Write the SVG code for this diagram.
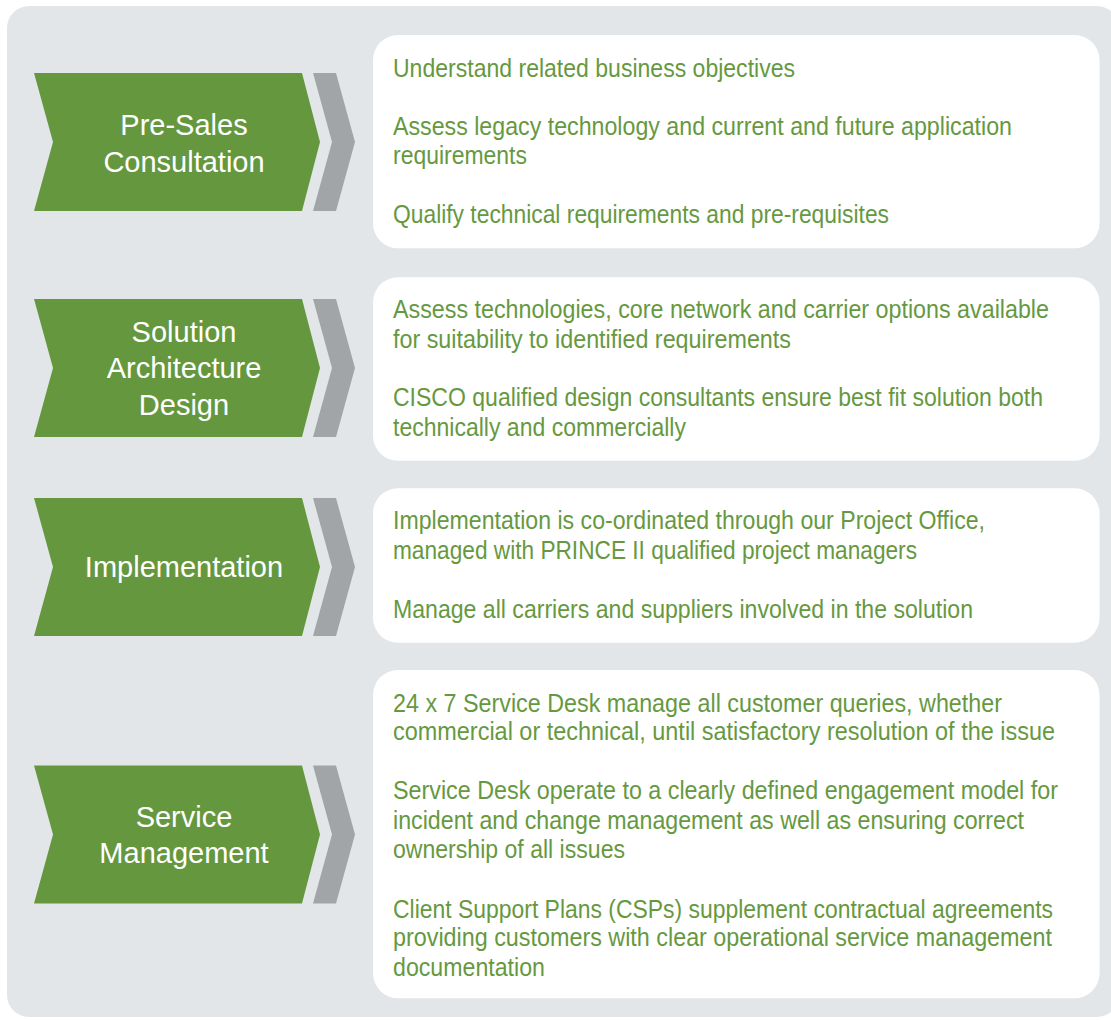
<svg xmlns="http://www.w3.org/2000/svg" width="1111" height="1020" viewBox="0 0 1111 1020">
<style>
.bg{fill:#E3E6E9}
.panel{fill:#FFFFFF}
.green{fill:#65983E}
.grey{fill:#A2A5A8}
.lbl{font-family:"Liberation Sans",Arial,sans-serif;font-size:29px;fill:#FFFFFF;text-anchor:middle}
.txt{font-family:"Liberation Sans Narrow","Liberation Sans",Arial,sans-serif;font-size:22px;fill:#66993F}
</style>
<defs>
<path id="chev" d="M34,-69 L302,-69 L320,0 L302,69 L34,69 L53,0 Z"/>
<path id="chev2" d="M313,-69 L336,-69 L355,0 L336,69 L313,69 L332,0 Z"/>
</defs>
<rect class="bg" x="7" y="6" width="1112" height="1011" rx="22"/>

<g id="node-presales">
<use href="#chev" class="green" transform="translate(0,142)"/>
<use href="#chev2" class="grey" transform="translate(0,142)"/>
<text class="lbl" x="184" y="135">Pre-Sales</text>
<text class="lbl" x="184" y="171.7">Consultation</text>
<rect class="panel" x="373" y="35" width="726.5" height="213.3" rx="25"/>
<g transform="scale(1,1.181818)">
<text class="txt" x="393" y="65.15" textLength="402" lengthAdjust="spacingAndGlyphs">Understand related business objectives</text>
<text class="txt" x="393" y="114.65" textLength="619" lengthAdjust="spacingAndGlyphs">Assess legacy technology and current and future application</text>
<text class="txt" x="393" y="139.19" textLength="134" lengthAdjust="spacingAndGlyphs">requirements</text>
<text class="txt" x="393" y="188.69" textLength="496" lengthAdjust="spacingAndGlyphs">Qualify technical requirements and pre-requisites</text>
</g>
</g>

<g id="node-solution">
<use href="#chev" class="green" transform="translate(0,368)"/>
<use href="#chev2" class="grey" transform="translate(0,368)"/>
<text class="lbl" x="184" y="341.7">Solution</text>
<text class="lbl" x="184" y="378.3">Architecture</text>
<text class="lbl" x="184" y="415">Design</text>
<rect class="panel" x="373" y="277.3" width="726.5" height="183.4" rx="25"/>
<g transform="scale(1,1.181818)">
<text class="txt" x="393" y="269.5" textLength="656" lengthAdjust="spacingAndGlyphs">Assess technologies, core network and carrier options available</text>
<text class="txt" x="393" y="294.88" textLength="398" lengthAdjust="spacingAndGlyphs">for suitability to identified requirements</text>
<text class="txt" x="393" y="343.96" textLength="650" lengthAdjust="spacingAndGlyphs">CISCO qualified design consultants ensure best fit solution both</text>
<text class="txt" x="393" y="369.35" textLength="293" lengthAdjust="spacingAndGlyphs">technically and commercially</text>
</g>
</g>

<g id="node-implementation">
<use href="#chev" class="green" transform="translate(0,567)"/>
<use href="#chev2" class="grey" transform="translate(0,567)"/>
<text class="lbl" x="184" y="577">Implementation</text>
<rect class="panel" x="373" y="488.3" width="726.5" height="154.4" rx="25"/>
<g transform="scale(1,1.181818)">
<text class="txt" x="393" y="448.04" textLength="592" lengthAdjust="spacingAndGlyphs">Implementation is co-ordinated through our Project Office,</text>
<text class="txt" x="393" y="473" textLength="524" lengthAdjust="spacingAndGlyphs">managed with PRINCE II qualified project managers</text>
<text class="txt" x="393" y="522.92" textLength="580" lengthAdjust="spacingAndGlyphs">Manage all carriers and suppliers involved in the solution</text>
</g>
</g>

<g id="node-service">
<use href="#chev" class="green" transform="translate(0,834.5)"/>
<use href="#chev2" class="grey" transform="translate(0,834.5)"/>
<text class="lbl" x="184" y="826.7">Service</text>
<text class="lbl" x="184" y="863.3">Management</text>
<rect class="panel" x="373" y="670" width="726.5" height="328.3" rx="25"/>
<g transform="scale(1,1.181818)">
<text class="txt" x="393" y="602.2" textLength="609" lengthAdjust="spacingAndGlyphs">24 x 7 Service Desk manage all customer queries, whether</text>
<text class="txt" x="393" y="626.58" textLength="662" lengthAdjust="spacingAndGlyphs">commercial or technical, until satisfactory resolution of the issue</text>
<text class="txt" x="393" y="676.5" textLength="665" lengthAdjust="spacingAndGlyphs">Service Desk operate to a clearly defined engagement model for</text>
<text class="txt" x="393" y="701.46" textLength="631" lengthAdjust="spacingAndGlyphs">incident and change management as well as ensuring correct</text>
<text class="txt" x="393" y="726" textLength="232" lengthAdjust="spacingAndGlyphs">ownership of all issues</text>
<text class="txt" x="393" y="776.35" textLength="660" lengthAdjust="spacingAndGlyphs">Client Support Plans (CSPs) supplement contractual agreements</text>
<text class="txt" x="393" y="800.88" textLength="659" lengthAdjust="spacingAndGlyphs">providing customers with clear operational service management</text>
<text class="txt" x="393" y="825.85" textLength="152" lengthAdjust="spacingAndGlyphs">documentation</text>
</g>
</g>

<g id="connectors"></g>
</svg>
